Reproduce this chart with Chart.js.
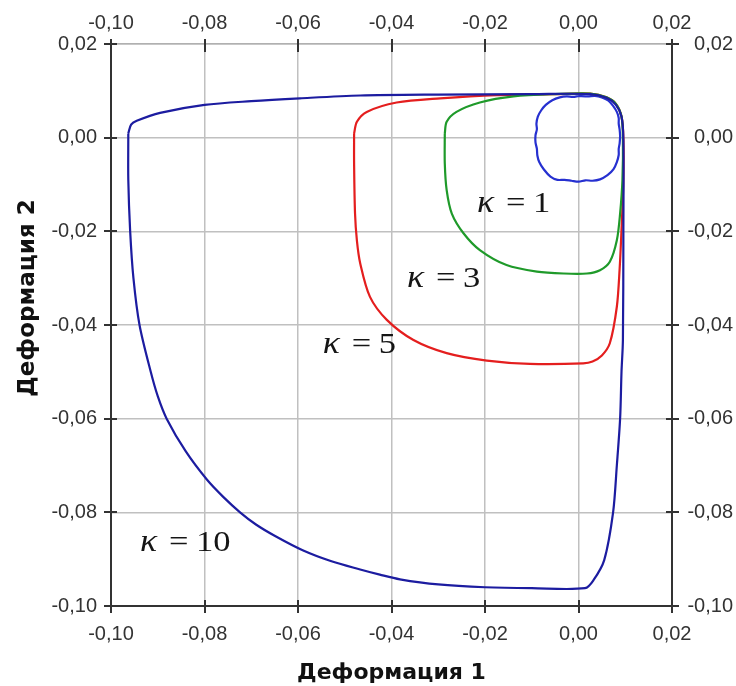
<!DOCTYPE html>
<html>
<head>
<meta charset="utf-8">
<script src="https://cdn.jsdelivr.net/npm/chart.js@4/dist/chart.umd.min.js"></script>
<style>
html,body{margin:0;padding:0;background:#fff;}
canvas{display:block;}
</style>
</head>
<body>
<canvas id="c" width="736" height="686"></canvas>
<script>
// ---- data (strain 1, strain 2) ----
const kappaValues = ['1', '3', '5', '10'];

const kappa10Points = [
  [-0.0963, 0.0009], [-0.0957, 0.0028], [-0.0945, 0.0036], [-0.0895, 0.0053], [-0.0800, 0.0070],
  [-0.0700, 0.0078], [-0.0596, 0.0084], [-0.0467, 0.0090], [-0.0300, 0.0092], [-0.0100, 0.0093],
  [0.0025, 0.0093], [0.0060, 0.0085], [0.0080, 0.0070], [0.0092, 0.0045], [0.0096, -0.0005],
  [0.0096, -0.0200], [0.0095, -0.0432], [0.0092, -0.0500], [0.0089, -0.0600], [0.0082, -0.0700],
  [0.0074, -0.0800], [0.0055, -0.0902], [0.0032, -0.0945], [0.0014, -0.0962], [-0.0100, -0.0962],
  [-0.0200, -0.0960], [-0.0300, -0.0954], [-0.0382, -0.0943], [-0.0425, -0.0933], [-0.0467, -0.0922],
  [-0.0530, -0.0904], [-0.0590, -0.0881], [-0.0650, -0.0850], [-0.0690, -0.0826], [-0.0724, -0.0800],
  [-0.0760, -0.0767], [-0.0795, -0.0730], [-0.0840, -0.0670], [-0.0881, -0.0600], [-0.0900, -0.0552],
  [-0.0915, -0.0500], [-0.0939, -0.0400], [-0.0952, -0.0300], [-0.0959, -0.0200], [-0.0963, -0.0090],
  [-0.0963, 0.0009]
];

const kappa5Points = [
  [-0.0480, 0.0009], [-0.0474, 0.0034], [-0.0453, 0.0055], [-0.0389, 0.0075], [-0.0296, 0.0084],
  [-0.0175, 0.0091], [-0.0050, 0.0093], [0.0025, 0.0094], [0.0060, 0.0086], [0.0080, 0.0072],
  [0.0092, 0.0045], [0.0096, 0.0000], [0.0096, -0.0090], [0.0092, -0.0197], [0.0088, -0.0280],
  [0.0082, -0.0361], [0.0067, -0.0439], [0.0050, -0.0465], [0.0030, -0.0478], [0.0010, -0.0482],
  [-0.0104, -0.0483], [-0.0196, -0.0476], [-0.0282, -0.0460], [-0.0353, -0.0432], [-0.0410, -0.0389],
  [-0.0446, -0.0340], [-0.0467, -0.0268], [-0.0474, -0.0220], [-0.0478, -0.0162], [-0.0480, -0.0055],
  [-0.0480, 0.0009]
];

const kappa3Points = [
  [-0.0286, 0.0009], [-0.0282, 0.0034], [-0.0261, 0.0055], [-0.0211, 0.0075], [-0.0139, 0.0088],
  [-0.0050, 0.0093], [0.0025, 0.0094], [0.0060, 0.0086], [0.0080, 0.0072], [0.0092, 0.0045],
  [0.0095, 0.0000], [0.0094, -0.0090], [0.0089, -0.0162], [0.0082, -0.0219], [0.0067, -0.0265],
  [0.0046, -0.0283], [0.0018, -0.0290], [-0.0032, -0.0290], [-0.0089, -0.0286], [-0.0154, -0.0272],
  [-0.0211, -0.0240], [-0.0246, -0.0204], [-0.0271, -0.0162], [-0.0282, -0.0112], [-0.0286, -0.0055],
  [-0.0286, 0.0009]
];

const kappa1Points = [
  [0.0000, 0.0089], [0.0020, 0.0088], [0.0035, 0.0089], [0.0050, 0.0086], [0.0064, 0.0079],
  [0.0074, 0.0068], [0.0082, 0.0055], [0.0086, 0.0042], [0.0086, 0.0030], [0.0088, 0.0017],
  [0.0089, 0.0003], [0.0088, -0.0012], [0.0086, -0.0024], [0.0086, -0.0037], [0.0082, -0.0052],
  [0.0075, -0.0067], [0.0062, -0.0080], [0.0046, -0.0089], [0.0030, -0.0092], [0.0015, -0.0091],
  [0.0000, -0.0094], [-0.0015, -0.0092], [-0.0030, -0.0090], [-0.0045, -0.0090], [-0.0060, -0.0083],
  [-0.0074, -0.0068], [-0.0084, -0.0052], [-0.0088, -0.0038], [-0.0089, -0.0024], [-0.0092, -0.0010],
  [-0.0092, 0.0005], [-0.0089, 0.0018], [-0.0090, 0.0030], [-0.0087, 0.0045], [-0.0080, 0.0058],
  [-0.0070, 0.0070], [-0.0056, 0.0080], [-0.0040, 0.0086], [-0.0025, 0.0088], [-0.0012, 0.0087],
  [0.0000, 0.0089]
];

// label anchors (data coordinates of the left/baseline of each "κ = n" text)
const labelAnchorX = [-0.0217, -0.0367, -0.0547, -0.0938];
const labelAnchorY = [-0.0159, -0.0319, -0.0460, -0.0883];

const axisMin = -0.10, axisMax = 0.02, axisStep = 0.02;
const xTitle = 'Деформация 1';
const yTitle = 'Деформация 2';

// ---- helpers ----
const toXY = arr => arr.map(p => ({x: p[0], y: p[1]}));
const fmt = v => { if (Math.abs(v) < 1e-9) v = 0; return v.toFixed(2).replace('.', ','); };

const tickFont = {family: '"Liberation Sans", Arial, sans-serif', size: 20};
const tickColor = '#333';
const gridColor = '#c0c0c0';
const titleFont = '"DejaVu Sans", Arial, sans-serif';

function mk(points, color, width) {
  return {data: toXY(points), showLine: true, borderColor: color, borderWidth: width,
          pointRadius: 0, pointHoverRadius: 0, fill: false, tension: 0.3, xAxisID: 'x', yAxisID: 'y'};
}

const tickMarksPlugin = {
  id: 'tickMarks',
  afterDraw(chart) {
    const ctx = chart.ctx, a = chart.chartArea;
    ctx.save();
    ctx.strokeStyle = '#333';
    ctx.lineWidth = 2;
    const xs = chart.scales.x, ys = chart.scales.y;
    ctx.beginPath();
    xs.ticks.forEach(t => {
      const px = Math.round(xs.getPixelForValue(t.value));
      ctx.moveTo(px, a.bottom - 6); ctx.lineTo(px, a.bottom + 7);
      ctx.moveTo(px, a.top - 5); ctx.lineTo(px, a.top + 8);
    });
    ys.ticks.forEach(t => {
      const py = Math.round(ys.getPixelForValue(t.value));
      ctx.moveTo(a.left - 7, py); ctx.lineTo(a.left + 6, py);
      ctx.moveTo(a.right - 6, py); ctx.lineTo(a.right + 7, py);
    });
    ctx.stroke();
    // vertical axis title
    ctx.save();
    ctx.translate(28, 298);
    ctx.rotate(-Math.PI / 2);
    ctx.fillStyle = '#111';
    ctx.font = 'bold 23px ' + titleFont;
    ctx.textAlign = 'center';
    ctx.textBaseline = 'middle';
    ctx.fillText(yTitle, 0, 0);
    ctx.restore();
    ctx.restore();
  }
};

const kappaLabelsPlugin = {
  id: 'kappaLabels',
  afterDatasetsDraw(chart) {
    const ctx = chart.ctx, xs = chart.scales.x, ys = chart.scales.y;
    ctx.save();
    ctx.fillStyle = '#151515';
    ctx.textBaseline = 'alphabetic';
    ctx.textAlign = 'left';
    const s = 1.15;
    kappaValues.forEach((k, i) => {
      const px = xs.getPixelForValue(labelAnchorX[i]);
      const py = ys.getPixelForValue(labelAnchorY[i]);
      ctx.save();
      ctx.translate(px, py);
      ctx.scale(s, 1);
      ctx.font = 'italic 31px "Liberation Serif", "Times New Roman", serif';
      ctx.fillText('κ', 0, 0);
      ctx.font = '30px "Liberation Serif", "Times New Roman", serif';
      ctx.fillText('=', 29 / s, 0);
      ctx.fillText(k, 56 / s, 0);
      ctx.restore();
    });
    ctx.restore();
  }
};

const chart = new Chart(document.getElementById('c'), {
  type: 'scatter',
  data: {
    datasets: [
      mk(kappa10Points, '#1c1ca0', 2.2),
      mk(kappa3Points, '#1f9a2a', 2.2),
      mk(kappa5Points, '#e41e1e', 2.2),
      mk(kappa1Points, '#2630d0', 2.2)
    ]
  },
  options: {
    responsive: false,
    animation: false,
    events: [],
    layout: {padding: {left: 0, top: 0, bottom: 0, right: 3}},
    plugins: {legend: {display: false}, tooltip: {enabled: false}},
    scales: {
      x: {
        type: 'linear', position: 'bottom', min: axisMin, max: axisMax,
        ticks: {stepSize: axisStep, font: tickFont, color: tickColor, padding: 16, callback: fmt, maxRotation: 0},
        grid: {color: gridColor, lineWidth: 1.5, drawTicks: false},
        border: {color: '#333', width: 2},
        title: {display: true, text: xTitle, color: '#111', padding: {top: 6, bottom: 0},
                font: {family: titleFont, size: 22, weight: 'bold'}},
        afterFit(s) { s.height = 80; }
      },
      x2: {
        type: 'linear', position: 'top', min: axisMin, max: axisMax,
        ticks: {stepSize: axisStep, font: tickFont, color: tickColor, padding: 9, callback: fmt, maxRotation: 0},
        grid: {display: false, drawTicks: false},
        border: {color: '#b0b0b0', width: 1.5},
        afterFit(s) { s.height = 44; }
      },
      y: {
        type: 'linear', position: 'left', min: axisMin, max: axisMax,
        ticks: {stepSize: axisStep, font: tickFont, color: tickColor, padding: 14, callback: fmt},
        grid: {color: gridColor, lineWidth: 1.5, drawTicks: false},
        border: {color: '#333', width: 2},
        afterFit(s) { s.width = 111; }
      },
      y2: {
        type: 'linear', position: 'right', min: axisMin, max: axisMax,
        ticks: {stepSize: axisStep, font: tickFont, color: tickColor, padding: 12, callback: fmt, crossAlign: 'far'},
        grid: {display: false, drawTicks: false},
        border: {color: '#333', width: 2},
        afterFit(s) { s.width = 61; }
      }
    }
  },
  plugins: [tickMarksPlugin, kappaLabelsPlugin]
});
</script>
</body>
</html>
